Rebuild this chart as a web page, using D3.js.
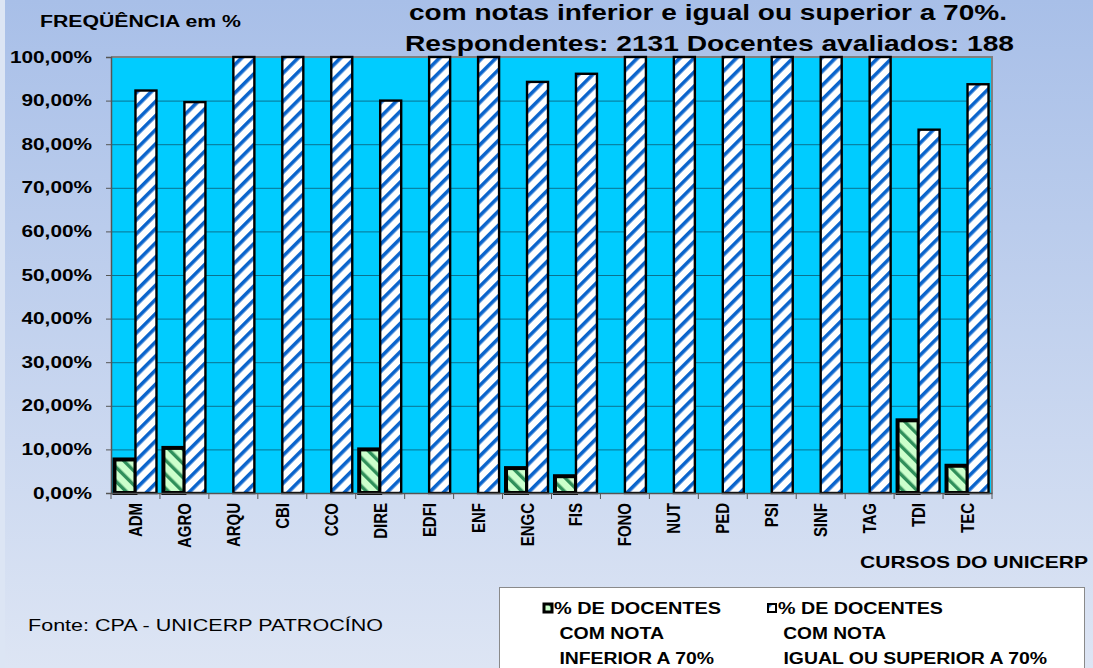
<!DOCTYPE html>
<html>
<head>
<meta charset="utf-8">
<script src="https://cdn.jsdelivr.net/npm/d3@7"></script>
<style>
  body { margin: 0; background: #dce5f4; }
  svg { display: block; font-family: "Liberation Sans", Arial, sans-serif; }
</style>
</head>
<body>
<svg width="1093" height="668"></svg>
<script>
const categories = ['ADM', 'AGRO', 'ARQU', 'CBI', 'CCO', 'DIRE', 'EDFI', 'ENF', 'ENGC', 'FIS',
    'FONO', 'NUT', 'PED', 'PSI', 'SINF', 'TAG', 'TDI', 'TEC'];
const inferior = [7.69, 10.34, 0, 0, 0, 10.0, 0, 0, 5.71, 3.85, 0, 0, 0, 0, 0, 0, 16.67, 6.25];
const superior = [92.31, 89.66, 100, 100, 100, 90.0, 100, 100, 94.29, 96.15, 100, 100, 100, 100, 100, 100, 83.33, 93.75];
const yTicks = [0, 10, 20, 30, 40, 50, 60, 70, 80, 90, 100];
const titleLines = ['com notas inferior e igual ou superior a 70%.', 'Respondentes: 2131 Docentes avaliados: 188'];
const legendInf = ['% DE DOCENTES', ' COM NOTA', ' INFERIOR A 70%'];
const legendSup = ['% DE DOCENTES', ' COM NOTA', ' IGUAL OU SUPERIOR A 70%'];

const svg = d3.select('svg');
const plot = {left: 111, right: 992, top: 57, bottom: 493};

// stretch text horizontally, the original was rendered wider than the font
function stretch(sel, k) {
    sel.each(function () {
        let w = this.getComputedTextLength();
        d3.select(this).attr('textLength', w * k).attr('lengthAdjust', 'spacingAndGlyphs');
    });
}
function fitTo(sel, w) {
    sel.attr('textLength', w).attr('lengthAdjust', 'spacingAndGlyphs');
}

let defs = svg.append('defs');
let grad = defs.append('linearGradient').attr('id', 'bg').attr('x1', 0).attr('y1', 0).attr('x2', 0).attr('y2', 1);
grad.append('stop').attr('offset', '0%').attr('stop-color', '#a8bfe8');
grad.append('stop').attr('offset', '100%').attr('stop-color', '#dde5f4');

let pBlue = defs.append('pattern').attr('id', 'pBlue').attr('patternUnits', 'userSpaceOnUse')
    .attr('width', 10).attr('height', 10).attr('patternTransform', 'rotate(45)');
pBlue.append('rect').attr('width', 10).attr('height', 10).attr('fill', '#ffffff');
pBlue.append('rect').attr('width', 3.6).attr('height', 10).attr('fill', '#0a64cc');

let pGreen = defs.append('pattern').attr('id', 'pGreen').attr('patternUnits', 'userSpaceOnUse')
    .attr('width', 10).attr('height', 10).attr('patternTransform', 'rotate(-45)');
pGreen.append('rect').attr('width', 10).attr('height', 10).attr('fill', '#ccffcc');
pGreen.append('rect').attr('width', 3.4).attr('height', 10).attr('fill', '#2f8f5a');

svg.append('rect').attr('x', 5).attr('y', 0).attr('width', 1088).attr('height', 668).attr('fill', 'url(#bg)');

let x = d3.scaleBand().domain(categories).range([plot.left, plot.right]);
let xSub = d3.scaleBand().domain(['inf', 'sup']).range([0, x.bandwidth()]).paddingOuter(0.165);
let y = d3.scaleLinear().domain([0, 100]).range([plot.bottom, plot.top]);

// plot area
svg.append('rect')
    .attr('x', plot.left).attr('y', plot.top)
    .attr('width', plot.right - plot.left).attr('height', plot.bottom - plot.top)
    .attr('fill', '#00ccff');

svg.append('g').selectAll('line').data(yTicks.slice(1, -1)).join('line')
    .attr('x1', plot.left).attr('x2', plot.right)
    .attr('y1', d => y(d) + 0.5).attr('y2', d => y(d) + 0.5)
    .attr('stroke', '#0a7290').attr('stroke-width', 1);

svg.append('path')
    .attr('d', `M${plot.left},${plot.top}H${plot.right}V${plot.bottom}`)
    .attr('fill', 'none').attr('stroke', '#808080').attr('stroke-width', 2);

// bars
let rows = categories.map((c, i) => ({cat: c, inf: inferior[i], sup: superior[i]}));

svg.append('g').selectAll('rect').data(rows.filter(d => d.inf > 0)).join('rect')
    .attr('x', d => x(d.cat) + xSub('inf'))
    .attr('y', d => y(d.inf))
    .attr('width', xSub.bandwidth())
    .attr('height', d => y(0) - y(d.inf))
    .attr('fill', 'url(#pGreen)')
    .attr('stroke', '#000').attr('stroke-width', 4);

svg.append('g').selectAll('rect').data(rows.filter(d => d.sup > 0)).join('rect')
    .attr('x', d => x(d.cat) + xSub('sup'))
    .attr('y', d => y(d.sup))
    .attr('width', xSub.bandwidth())
    .attr('height', d => y(0) - y(d.sup))
    .attr('fill', 'url(#pBlue)')
    .attr('stroke', '#000').attr('stroke-width', 2.4);

// y axis
let yAxis = svg.append('g').attr('transform', `translate(${plot.left},0)`)
    .call(d3.axisLeft(y).tickValues(yTicks).tickSize(5).tickPadding(14)
        .tickFormat(d => d.toFixed(2).replace('.', ',') + '%'));
yAxis.select('.domain').attr('stroke', '#555').attr('stroke-width', 1.5);
yAxis.selectAll('.tick line').attr('stroke', '#555');
yAxis.selectAll('.tick text')
    .attr('font-size', 16).attr('font-weight', 'bold').attr('fill', '#000')
    .attr('font-family', '"Liberation Sans", Arial, sans-serif')
    .call(stretch, 1.3);

// x axis
let xAxis = svg.append('g').attr('transform', `translate(0,${plot.bottom})`)
    .call(d3.axisBottom(x).tickSize(0));
xAxis.select('.domain').attr('stroke', '#555').attr('stroke-width', 1.5);
xAxis.selectAll('.tick text')
    .attr('font-size', 15).attr('font-weight', 'bold').attr('fill', '#000')
    .attr('font-family', '"Liberation Sans", Arial, sans-serif')
    .attr('text-anchor', 'end')
    .attr('transform', 'rotate(-90) scale(1,1.2)')
    .attr('x', -10).attr('y', 0).attr('dy', '0.36em');

svg.append('g').selectAll('line').data(categories.concat(['__end'])).join('line')
    .attr('x1', (d, i) => plot.left + i * x.step()).attr('x2', (d, i) => plot.left + i * x.step())
    .attr('y1', plot.bottom).attr('y2', plot.bottom + 6)
    .attr('stroke', '#555');

// titles
svg.selectAll('text.title').data(titleLines).join('text')
    .attr('class', 'title')
    .attr('x', (d, i) => i === 0 ? 409 : 405)
    .attr('y', (d, i) => i === 0 ? 20 : 51)
    .attr('font-size', 22).attr('font-weight', 'bold')
    .text(d => d)
    .each(function (d, i) { fitTo(d3.select(this), i === 0 ? 598 : 609); });

svg.append('text').attr('x', 40).attr('y', 27)
    .attr('font-size', 16).attr('font-weight', 'bold')
    .text('FREQÜÊNCIA em %')
    .call(fitTo, 201);

svg.append('text').attr('x', 860).attr('y', 568)
    .attr('font-size', 17).attr('font-weight', 'bold')
    .text('CURSOS DO UNICERP')
    .call(fitTo, 228);

svg.append('text').attr('x', 28).attr('y', 631)
    .attr('font-size', 17)
    .text('Fonte: CPA - UNICERP PATROCÍNO')
    .call(fitTo, 355);

// legend
svg.append('rect').attr('x', 499.5).attr('y', 587.5).attr('width', 585).attr('height', 100)
    .attr('fill', '#fff').attr('stroke', '#8a8a8a');

function legendEntry(mx, tx, lines, widths, fill, sw) {
    svg.append('rect').attr('x', mx).attr('y', 604).attr('width', 8).attr('height', 8)
        .attr('fill', fill).attr('stroke', '#000').attr('stroke-width', sw);
    svg.append('g').selectAll('text').data(lines).join('text')
        .attr('x', tx).attr('y', (d, i) => 614 + i * 25)
        .attr('font-size', 16).attr('font-weight', 'bold')
        .attr('xml:space', 'preserve')
        .text(d => d)
        .each(function (d, i) { fitTo(d3.select(this), widths[i]); });
}
legendEntry(544, 554, legendInf, [167, 110, 160], 'url(#pGreen)', 3);
legendEntry(768, 778, legendSup, [165, 108, 269], 'url(#pBlue)', 2);
</script>
</body>
</html>
